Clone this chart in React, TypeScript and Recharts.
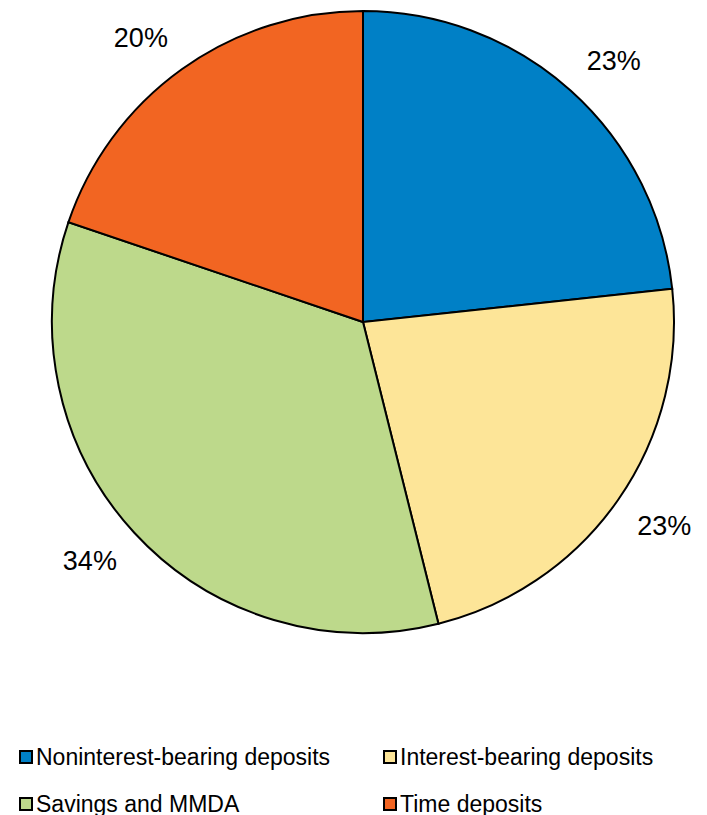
import { Cell, Legend, Pie, PieChart } from "recharts";

const categories = [
  "Noninterest-bearing deposits",
  "Interest-bearing deposits",
  "Savings and MMDA",
  "Time deposits",
];
const shares = [23.3, 22.8, 34.1, 19.8];
const percentLabels = ["23%", "23%", "34%", "20%"];
const colors = ["#0080c6", "#fde598", "#bdd98b", "#f26522"];

const data = categories.map((name, i) => ({ name, value: shares[i] }));

const RAD = Math.PI / 180;
const LABEL_W = 55;
const LABEL_H = 26;

// outside-end label: box pushed off the rim along the slice's mid direction,
// then shifted by half its size so the nearest corner faces the pie
function renderLabel(props: any) {
  const { cx, cy, midAngle, outerRadius, index } = props;
  const dx = Math.cos(-midAngle * RAD);
  const dy = Math.sin(-midAngle * RAD);
  const r = outerRadius + 23;
  const x = cx + r * dx + Math.sign(dx) * (LABEL_W / 2);
  const y = cy + r * dy + Math.sign(dy) * (LABEL_H / 2);
  return (
    <text
      x={x}
      y={y}
      textAnchor="middle"
      dominantBaseline="central"
      fontSize={27}
      fill="#000"
      fontFamily="'Liberation Sans', Arial, sans-serif"
    >
      {percentLabels[index]}
    </text>
  );
}

function renderLegend() {
  return (
    <div
      style={{
        display: "grid",
        gridTemplateColumns: "364px 343px",
        rowGap: 21,
        fontFamily: "'Liberation Sans', Arial, sans-serif",
        fontSize: 23,
        color: "#000",
      }}
    >
      {categories.map((name, i) => (
        <div
          key={name}
          style={{
            display: "flex",
            alignItems: "center",
            paddingLeft: 19,
            height: 26,
          }}
        >
          <span
            style={{
              display: "inline-block",
              width: 10,
              height: 10,
              background: colors[i],
              border: "2.5px solid #000",
              marginRight: 3,
            }}
          />
          {name}
        </div>
      ))}
    </div>
  );
}

export default function App() {
  return (
    <div style={{ position: "absolute", left: 0, top: 0 }}>
      <PieChart
        width={707}
        height={815}
        margin={{ top: 0, right: 0, bottom: 0, left: 0 }}
      >
        <Pie
          data={data}
          dataKey="value"
          nameKey="name"
          cx={363}
          cy={322}
          outerRadius={311}
          startAngle={90}
          endAngle={-270}
          stroke="#000"
          strokeWidth={2}
          label={renderLabel}
          labelLine={false}
          isAnimationActive={false}
        >
          {data.map((d, i) => (
            <Cell key={d.name} fill={colors[i]} />
          ))}
        </Pie>
        <Legend
          content={renderLegend}
          wrapperStyle={{ left: 0, top: 744, width: 707 }}
        />
      </PieChart>
    </div>
  );
}
